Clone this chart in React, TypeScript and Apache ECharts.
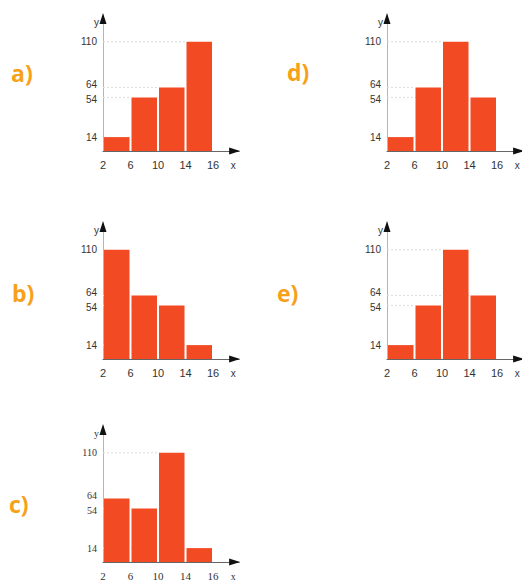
import React, { useEffect, useRef } from "react";
import * as echarts from "echarts";

const edgeLabels = ["2", "6", "10", "14", "16"];
const yTickValues = [14, 54, 64, 110];
const freqA = [14, 54, 64, 110];
const freqB = [110, 64, 54, 14];
const freqC = [64, 54, 110, 14];
const freqD = [14, 64, 110, 54];
const freqE = [14, 54, 110, 64];
const panelNames = ["a)", "b)", "c)", "d)", "e)"];
const panelData = [freqA, freqB, freqC, freqD, freqE];

// layout: y-axis x position and baseline y for each panel
const panelLayout = [
  { left: 103, base: 151, lx: 24, ly: 77 },
  { left: 103, base: 359, lx: 25, ly: 297 },
  { left: 103, base: 562, lx: 22, ly: 508 },
  { left: 387, base: 151, lx: 300, ly: 76 },
  { left: 387, base: 359, lx: 290, ly: 297 },
];

const BAR = "#f24b24";
const X_MAX = 4.95;
const Y_MAX = 137;
const PX_X = 27.5;
const PX_Y = 0.993;

export default function App() {
  const ref = useRef<HTMLDivElement>(null);
  useEffect(() => {
    const chart = echarts.init(ref.current!, null, { renderer: "svg" });
    const grids: any[] = [];
    const xAxes: any[] = [];
    const yAxes: any[] = [];
    const series: any[] = [];
    const graphics: any[] = [];
    panelData.forEach((vals, i) => {
      const L = panelLayout[i];
      const serif = i === 2;
      const font = serif ? "Liberation Serif" : "Liberation Sans";
      const h = Y_MAX * PX_Y;
      grids.push({
        left: L.left,
        top: L.base - h,
        width: X_MAX * PX_X,
        height: h,
        containLabel: false,
        outerBoundsMode: "none",
      });
      xAxes.push({
        type: "value",
        gridIndex: i,
        min: 0,
        max: X_MAX,
        interval: 1,
        name: "x",
        nameLocation: "end",
        nameGap: -6,
        nameTextStyle: {
          color: "#333",
          fontSize: 10,
          fontFamily: font,
          align: "center",
          verticalAlign: "top",
          padding: [9, 0, 0, 0],
        },
        axisLine: {
          show: true,
          lineStyle: { color: "#666", width: 1 },
        },
        axisTick: { show: false },
        splitLine: { show: false },
        axisLabel: {
          color: "#333",
          fontSize: 11,
          fontFamily: font,
          margin: 8,
          showMaxLabel: false,
          formatter: (v: number) => {
            const k = Math.round(v);
            return Math.abs(v - k) < 1e-6 && edgeLabels[k] !== undefined ? edgeLabels[k] : "";
          },
        },
      });
      yAxes.push({
        type: "value",
        gridIndex: i,
        min: 0,
        max: Y_MAX,
        name: "y",
        nameLocation: "end",
        nameGap: -8,
        nameTextStyle: {
          color: "#333",
          fontSize: 10,
          fontFamily: font,
          align: "right",
          verticalAlign: "middle",
          padding: [0, 4, 0, 0],
        },
        axisLine: {
          show: true,
          lineStyle: { color: "#b5b5b5", width: 1 },
        },
        axisTick: { show: false },
        splitLine: { show: false },
        axisLabel: {
          customValues: yTickValues,
          color: "#333",
          fontSize: 10,
          fontFamily: font,
          margin: 6,
          formatter: (v: number) =>
            v === 64 ? `{hi|${v}}` : v === 54 ? `{lo|${v}}` : `{n|${v}}`,
          rich: {
            hi: { fontSize: 10, lineHeight: 10, fontFamily: font, color: "#333", padding: [0, 0, 5, 0] },
            lo: { fontSize: 10, lineHeight: 10, fontFamily: font, color: "#333", padding: [5, 0, 0, 0] },
            n: { fontSize: 10, lineHeight: 10, fontFamily: font, color: "#333" },
          },
        },
      });
      series.push({
        type: "custom",
        xAxisIndex: i,
        yAxisIndex: i,
        data: vals.map((v, k) => [k, k + 1, v]),
        renderItem: (params: any, api: any) => {
          const x0 = api.value(0);
          const x1 = api.value(1);
          const v = api.value(2);
          const pTop = api.coord([x0, v]);
          const pBot = api.coord([x1, 0]);
          const pAxis = api.coord([0, v]);
          const children: any[] = [
            {
              type: "line",
              z2: 0,
              shape: { x1: pAxis[0], y1: pTop[1], x2: pTop[0], y2: pTop[1] },
              style: { stroke: "#dcdcdc", lineWidth: 1, lineDash: [2, 2] },
            },
            {
              type: "rect",
              z2: 10,
              shape: {
                x: pTop[0] + 1,
                y: pTop[1],
                width: pBot[0] - pTop[0] - 2,
                height: pBot[1] - pTop[1],
              },
              style: { fill: BAR },
            },
          ];
          if (params.dataIndex === 0) {
            const yTip = api.coord([0, Y_MAX]);
            const xTip = api.coord([X_MAX, 0]);
            children.push({
              type: "polygon",
              z2: 20,
              shape: {
                points: [
                  [yTip[0], yTip[1] - 2],
                  [yTip[0] - 3.5, yTip[1] + 9],
                  [yTip[0] + 3.5, yTip[1] + 9],
                ],
              },
              style: { fill: "#111" },
            });
            children.push({
              type: "polygon",
              z2: 20,
              shape: {
                points: [
                  [xTip[0] + 1, xTip[1]],
                  [xTip[0] - 10, xTip[1] - 3.5],
                  [xTip[0] - 10, xTip[1] + 3.5],
                ],
              },
              style: { fill: "#111" },
            });
          }
          return { type: "group", children };
        },
      });
      graphics.push({
        type: "text",
        left: L.lx - 13,
        top: L.ly - 16,
        style: {
          text: panelNames[i],
          fill: "#f7a11a",
          font: 'bold 23px "Open Sans", "Liberation Sans", sans-serif',
        },
      });
    });
    chart.setOption({
      animation: false,
      backgroundColor: "#ffffff",
      grid: grids,
      xAxis: xAxes,
      yAxis: yAxes,
      series,
      graphic: graphics,
    });
    return () => chart.dispose();
  }, []);
  return (
    <div
      ref={ref}
      style={{ position: "absolute", left: 0, top: 0, width: 522, height: 580 }}
    />
  );
}
